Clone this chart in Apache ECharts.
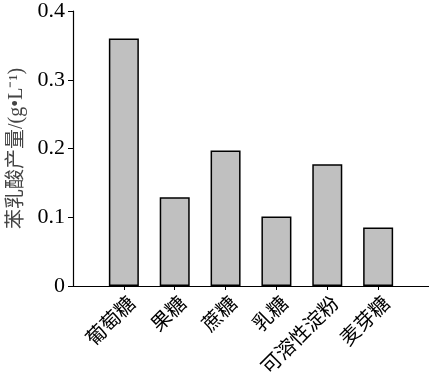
<!DOCTYPE html>
<html><head><meta charset="utf-8">
<script src="https://cdn.jsdelivr.net/npm/echarts@6/dist/echarts.min.js"></script>
<style>html,body{margin:0;padding:0;background:#fff}#c{width:429px;height:381px}</style>
</head><body><div id="c"></div>
<script>
const categories = ['葡萄糖','果糖','蔗糖','乳糖','可溶性淀粉','麦芽糖'];
const values = [0.36, 0.129, 0.197, 0.101, 0.177, 0.085];
const yTicks = [0, 0.1, 0.2, 0.3, 0.4];
const yName = '苯乳酸产量/(g•L⁻¹)';

const axisCats = [''].concat(categories, ['']);
const axisVals = [null].concat(values, [null]);
const font = '"Liberation Serif", "Noto Sans CJK SC", serif';
const chart = echarts.init(document.getElementById('c'));
chart.setOption({
  animation: false,
  grid: {left: 73, right: 0, top: 11, bottom: 95, containLabel: false, outerBoundsMode: 'none'},
  xAxis: {
    type: 'category', data: axisCats, boundaryGap: false,
    axisLine: {lineStyle: {color: '#000', width: 1.2}},
    axisTick: {show: true, inside: false, length: 4, lineStyle: {color: '#000'},
      interval: (i) => i > 0 && i < axisCats.length - 1},
    axisLabel: {rotate: 45, margin: 24, fontSize: 20, color: '#000', fontFamily: font,
      padding: [0, -13, 0, 0],
      interval: (i) => i > 0 && i < axisCats.length - 1}
  },
  yAxis: {
    type: 'value', min: yTicks[0], max: yTicks[yTicks.length-1], interval: 0.1,
    name: yName, nameLocation: 'middle', nameGap: 45,
    nameTextStyle: {fontSize: 20, color: '#444', fontFamily: font},
    axisLine: {show: true, lineStyle: {color: '#000', width: 1.2}},
    axisTick: {show: true, inside: false, length: 5, lineStyle: {color: '#000'}},
    axisLabel: {fontSize: 22, color: '#000', fontFamily: font, margin: 8},
    splitLine: {show: false}
  },
  series: [{
    type: 'bar', data: axisVals, barWidth: 30,
    itemStyle: {color: '#c0c0c0', borderColor: '#000', borderWidth: 1.5}
  }]
});
</script></body></html>
